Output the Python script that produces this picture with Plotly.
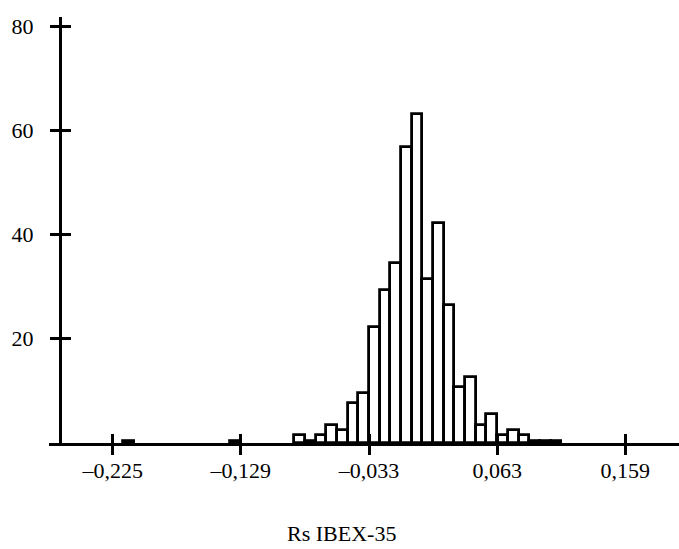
import plotly.graph_objects as go

# histogram bins (width 0.008), centres and heights
bin_centers = [-0.213, -0.133, -0.085, -0.077, -0.069, -0.061, -0.053, -0.045, -0.037,
               -0.029, -0.021, -0.013, -0.005, 0.003, 0.011, 0.019, 0.027, 0.035, 0.043,
               0.051, 0.059, 0.067, 0.075, 0.083, 0.091, 0.099, 0.107]
bin_heights = [0.4, 0.4, 1.5, 0.45, 1.5, 3.5, 2.5, 7.6, 9.6,
               22.3, 29.4, 34.6, 56.8, 63.2, 31.5, 42.3, 26.4, 10.7, 12.7,
               3.5, 5.5, 1.5, 2.5, 1.5, 0.4, 0.4, 0.4]
bin_width = 0.008

x_tickvals = [-0.225, -0.129, -0.033, 0.063, 0.159]
x_ticktext = ["\u20130,225", "\u20130,129", "\u20130,033", "0,063", "0,159"]
y_tickvals = [20, 40, 60, 80]
y_ticktext = ["20", "40", "60", "80"]
x_title = "Rs IBEX-35"

FONT = dict(family="Liberation Serif, Times New Roman, serif", size=22, color="black")

fig = go.Figure()
fig.add_trace(go.Bar(
    x=bin_centers, y=bin_heights, width=[bin_width] * len(bin_centers),
    marker=dict(color="white", line=dict(color="black", width=2.8)),
    hoverinfo="skip",
))
# invisible trace to host the overlay axes (cross ticks)
fig.add_trace(go.Scatter(x=[None], y=[None], xaxis="x2", yaxis="y2", showlegend=False))

x_range = [-0.27272, 0.19923]
y_range = [0, 81.73]

common_x = dict(range=x_range, tickvals=x_tickvals, showgrid=False, zeroline=False,
                showline=True, linecolor="black", linewidth=3,
                tickcolor="black", tickwidth=2.7, ticklen=9, domain=[0, 1])
common_y = dict(range=y_range, tickvals=y_tickvals, showgrid=False, zeroline=False,
                showline=True, linecolor="black", linewidth=3,
                tickcolor="black", tickwidth=2.7, ticklen=9,
                anchor="free", position=11 / 630)

fig.update_layout(
    width=679, height=549,
    margin=dict(l=49, r=0, t=17, b=106),
    paper_bgcolor="white", plot_bgcolor="white",
    showlegend=False, bargap=0,
    font=FONT,
    xaxis=dict(**common_x, ticks="outside", ticktext=x_ticktext, tickfont=FONT,
               anchor="y", ticklabelstandoff=-3),
    xaxis2=dict(**common_x, ticks="inside", showticklabels=False,
                overlaying="x", anchor="y2"),
    yaxis=dict(**common_y, ticks="outside", ticktext=y_ticktext, tickfont=FONT,
               ticklabelstandoff=12),
    yaxis2=dict(**common_y, ticks="inside", showticklabels=False, overlaying="y"),
    annotations=[dict(text=x_title, xref="paper", yref="paper",
                      x=(341 - 49) / 630, y=(443 - 533) / 426,
                      xanchor="center", yanchor="middle", showarrow=False, font=FONT)],
)

fig.write_html("out.html", config={"displayModeBar": False})
